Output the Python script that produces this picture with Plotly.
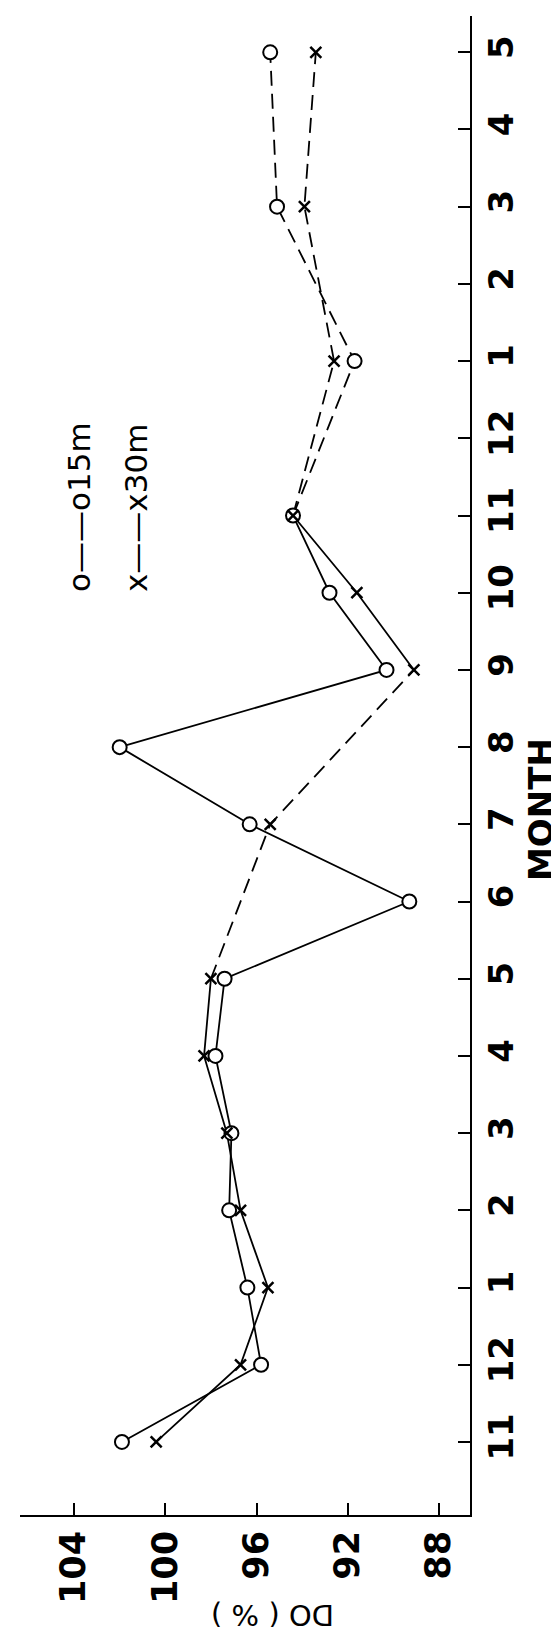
import plotly.graph_objects as go

# ---- data ----
months = ["11", "12", "1", "2", "3", "4", "5", "6", "7", "8",
          "9", "10", "11", "12", "1", "2", "3", "4", "5"]
do_15m = [101.9, 95.8, 96.4, 97.2, 97.1, 97.8, 97.4, 89.3, 96.3, 102.0,
          90.3, 92.8, 94.4, None, 91.7, None, 95.1, None, 95.4]
do_30m = [100.4, 96.7, 95.5, 96.7, 97.3, 98.3, 98.0, None, 95.4, None,
          89.1, 91.6, 94.4, None, 92.6, None, 93.9, None, 93.4]
do_ticks = [104, 100, 96, 92, 88]

# ---- line-style segments (indices into the arrays) ----
seg_15 = [(list(range(0, 13)), "solid"), ([12, 14, 16, 18], "15px,8px")]
seg_30 = [(list(range(0, 7)), "solid"), ([6, 8, 10], "15px,8px"),
          ([10, 11, 12], "solid"), ([12, 14, 16, 18], "15px,8px")]

pos = list(range(len(months)))
fig = go.Figure()


def add_segments(vals, segs):
    for idx, dash in segs:
        xs = [vals[i] for i in idx if vals[i] is not None]
        ys = [pos[i] for i in idx if vals[i] is not None]
        fig.add_trace(go.Scatter(x=xs, y=ys, mode="lines",
                                 line=dict(color="black", width=1.8, dash=dash),
                                 showlegend=False, hoverinfo="skip"))


add_segments(do_15m, seg_15)
add_segments(do_30m, seg_30)

# markers on top
fig.add_trace(go.Scatter(
    x=[v for v in do_15m if v is not None],
    y=[p for p, v in zip(pos, do_15m) if v is not None],
    mode="markers",
    marker=dict(symbol="circle", size=14, color="white",
                line=dict(color="black", width=2)),
    showlegend=False))
fig.add_trace(go.Scatter(
    x=[v for v in do_30m if v is not None],
    y=[p for p, v in zip(pos, do_30m) if v is not None],
    mode="markers",
    marker=dict(symbol="x-thin-open", size=11, color="black",
                line=dict(color="black", width=2.5)),
    showlegend=False))

W, H = 559, 1631
L, R, T, B = 12, 462, 8, 1507

fig.update_layout(
    width=W, height=H,
    margin=dict(l=L, r=W - R, t=T, b=H - B, pad=0),
    paper_bgcolor="white", plot_bgcolor="white",
    showlegend=False,
    xaxis=dict(range=[106.37, 86.64], tickvals=do_ticks,
               ticktext=[str(t) for t in do_ticks],
               tickangle=-90, ticks="inside", ticklen=12, tickwidth=2,
               tickcolor="black", showline=True, linecolor="black",
               linewidth=2, showgrid=False, zeroline=False,
               tickfont=dict(family="DejaVu Sans", size=35, color="black",
                             weight="bold")),
    yaxis=dict(range=[-0.946, 18.47], tickvals=pos, ticktext=months,
               side="right", tickangle=-90, ticks="inside", ticklen=12,
               tickwidth=2, tickcolor="black", showline=True,
               linecolor="black", linewidth=2, showgrid=False,
               zeroline=False,
               tickfont=dict(family="DejaVu Sans", size=34, color="black",
                             weight="bold")),
)

pw, ph = R - L, B - T


def px(xp, yp):
    return (xp - L) / pw, (B - yp) / ph


annots = [
    ("o\u2014\u2014o15m", 71, 499, -90, 31, "normal"),
    ("x\u2014\u2014x30m", 128, 500, -90, 31, "normal"),
    ("MONTH", 533, 802, -90, 34, "bold"),
    ("DO ( % )", 265, 1607, 180, 29, "normal"),
]
for text, ax_, ay_, ang, size, wt in annots:
    xp, yp = px(ax_, ay_)
    fig.add_annotation(text=text, x=xp, y=yp, xref="paper", yref="paper",
                       xanchor="center", yanchor="middle", textangle=ang,
                       showarrow=False,
                       font=dict(family="DejaVu Sans", size=size,
                                 color="black", weight=wt))

fig.write_html("out.html")
